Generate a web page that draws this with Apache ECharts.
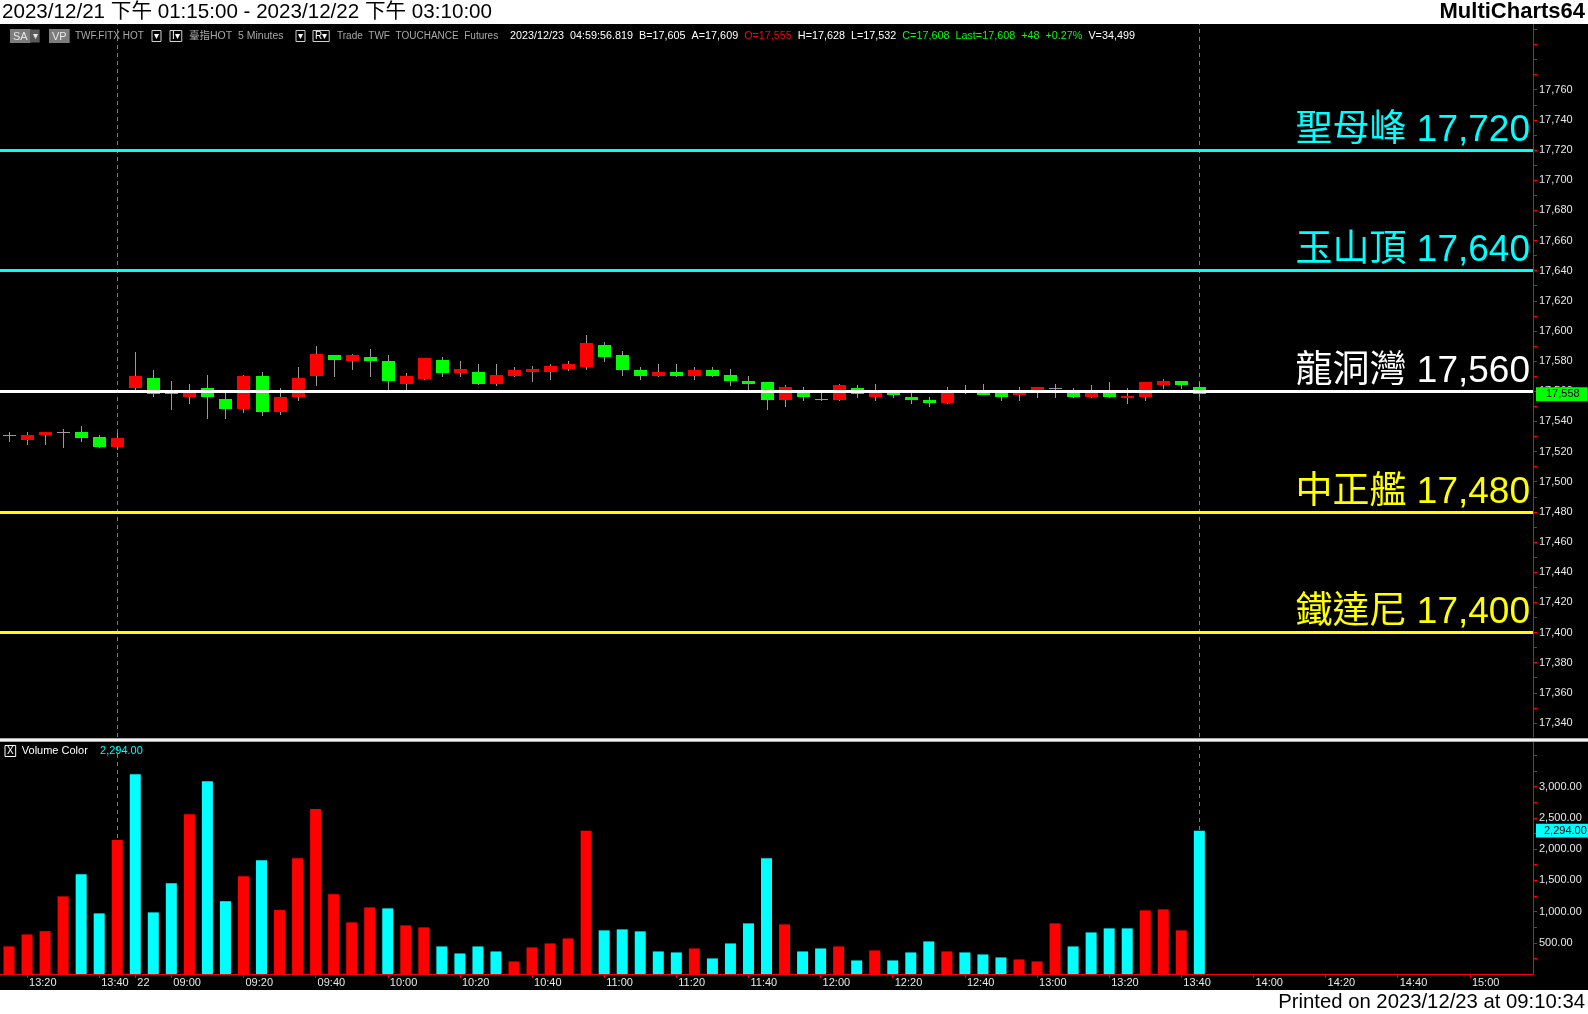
<!DOCTYPE html>
<html><head><meta charset="utf-8">
<script src="https://cdn.jsdelivr.net/npm/echarts@6/dist/echarts.min.js"></script>
<style>html,body{margin:0;padding:0;background:#000;overflow:hidden}#c{width:1588px;height:1014px;}</style>
</head><body><div id="c"></div>
<script>
// ---------- DATA ----------
const categories = [
 '12/21 13:15','12/21 13:20','12/21 13:25','12/21 13:30','12/21 13:35','12/21 13:40','12/21 13:45',
 '12/22 08:50','12/22 08:55',
 '12/22 09:00','12/22 09:05','12/22 09:10','12/22 09:15','12/22 09:20','12/22 09:25','12/22 09:30','12/22 09:35','12/22 09:40','12/22 09:45','12/22 09:50','12/22 09:55',
 '12/22 10:00','12/22 10:05','12/22 10:10','12/22 10:15','12/22 10:20','12/22 10:25','12/22 10:30','12/22 10:35','12/22 10:40','12/22 10:45','12/22 10:50','12/22 10:55',
 '12/22 11:00','12/22 11:05','12/22 11:10','12/22 11:15','12/22 11:20','12/22 11:25','12/22 11:30','12/22 11:35','12/22 11:40','12/22 11:45','12/22 11:50','12/22 11:55',
 '12/22 12:00','12/22 12:05','12/22 12:10','12/22 12:15','12/22 12:20','12/22 12:25','12/22 12:30','12/22 12:35','12/22 12:40','12/22 12:45','12/22 12:50','12/22 12:55',
 '12/22 13:00','12/22 13:05','12/22 13:10','12/22 13:15','12/22 13:20','12/22 13:25','12/22 13:30','12/22 13:35','12/22 13:40','12/22 13:45','12/22 13:50','12/22 13:55',
 '12/22 14:00','12/22 14:05','12/22 14:10','12/22 14:15','12/22 14:20','12/22 14:25','12/22 14:30','12/22 14:35','12/22 14:40','12/22 14:45','12/22 14:50','12/22 14:55',
 '12/22 15:00','12/22 15:05','12/22 15:10','12/22 15:15'
];
const opens  = [17531,17528,17531,17533,17533,17530,17523, 17562,17569,17560,17556,17562,17555,17548,17570,17546,17556,17570,17584,17580,17583,17580,17565,17568,17581,17572,17573,17565,17570,17573,17573,17575,17576,17591,17584,17574,17570,17573,17570,17574,17571,17567,17566,17554,17560,17555,17554,17562,17556,17559,17556,17554,17552,17561,17559,17559,17558,17561,17562,17559,17556,17559,17556,17556,17564,17567,17563];
const highs  = [17533,17533,17533,17535,17537,17531,17532, 17586,17574,17567,17565,17571,17559,17571,17573,17562,17576,17590,17584,17585,17588,17584,17572,17582,17583,17580,17578,17578,17576,17577,17578,17580,17597,17593,17587,17576,17578,17578,17576,17576,17575,17570,17566,17564,17563,17561,17565,17564,17565,17560,17559,17556,17563,17564,17565,17560,17563,17563,17565,17562,17564,17566,17562,17566,17568,17567,17566];
const lows   = [17527,17525,17525,17523,17527,17523,17522, 17561,17557,17548,17552,17542,17542,17546,17544,17545,17554,17564,17570,17575,17570,17561,17561,17568,17570,17570,17565,17564,17570,17567,17568,17574,17575,17580,17571,17568,17570,17570,17568,17570,17564,17561,17548,17550,17554,17554,17554,17556,17554,17556,17552,17550,17552,17559,17558,17554,17554,17556,17556,17556,17556,17556,17552,17554,17562,17562,17557];
const closes = [17531,17531,17533,17533,17529,17523,17529, 17570,17558,17558,17559,17556,17548,17570,17546,17556,17569,17585,17581,17584,17580,17567,17570,17582,17572,17575,17565,17571,17574,17575,17577,17578,17592,17583,17574,17570,17573,17570,17574,17570,17567,17565,17554,17563,17556,17555,17564,17558,17559,17558,17554,17552,17560,17560,17558,17556,17559,17563,17562,17556,17559,17556,17557,17566,17567,17564,17558];
const volumes = [441,633,686,1242,1595,970,2145,3198,986,1451,2557,3085,1165,1563,1820,1023,1851,2641,1277,826,1066,1050,778,746,441,329,441,361,201,425,489,569,2292,698,714,682,361,345,409,249,489,810,1851,794,361,409,441,217,377,217,345,521,361,345,313,265,233,201,810,441,665,730,730,1018,1034,698,2294];
const volumeColorKeys = ['r','r','r','r','c','c','r','c','c','c', 'r','c','c','r','c','r','r','r','r','r', 'r','c','r','r','c','c','c','c','r','r', 'r','r','r','c','c','c','c','c','r','c', 'c','c','c','r','c','c','r','c','r','c', 'c','c','r','c','c','c','r','r','r','c', 'c','c','c','r','r','r','c'];
const xLabelCategories = ['12/21 13:20','12/21 13:40','12/22 08:50','12/22 09:00','12/22 09:20','12/22 09:40','12/22 10:00','12/22 10:20','12/22 10:40','12/22 11:00','12/22 11:20','12/22 11:40','12/22 12:00','12/22 12:20','12/22 12:40','12/22 13:00','12/22 13:20','12/22 13:40','12/22 14:00','12/22 14:20','12/22 14:40','12/22 15:00'];
const sessionBreaks = ['12/21 13:45','12/22 13:45'];
const priceTickLabels = [17340,17360,17380,17400,17420,17440,17460,17480,17500,17520,17540,17560,17580,17600,17620,17640,17660,17680,17700,17720,17740,17760];
const priceMinorTicks = [17340,17350,17360,17370,17380,17390,17400,17410,17420,17430,17440,17450,17460,17470,17480,17490,17500,17510,17520,17530,17540,17550,17560,17570,17580,17590,17600,17610,17620,17630,17640,17650,17660,17670,17680,17690,17700,17710,17720,17730,17740,17750,17760,17770,17780,17790,17800];
const volumeTickLabels = [500,1000,1500,2000,2500,3000];
const volumeMinorTicks = [250,500,750,1000,1250,1500,1750,2000,2250,2500,2750,3000,3250,3500];
const levelNames  = ['聖母峰','玉山頂','龍洞灣','中正艦','鐵達尼'];
const levelValues = [17720,17640,17560,17480,17400];
const levelColors = ['#00ffff','#00ffff','#ffffff','#ffff00','#ffff00'];

// ---------- CHART ----------
const FONT = "'Liberation Sans', Arial, 'Noto Sans CJK TC', sans-serif";
const chart = echarts.init(document.getElementById('c'), null, {renderer:'canvas'});
const candleData = opens.map((o,i)=>[i, o, closes[i], lows[i], highs[i]]);
const volData = volumes.map((v,i)=>({value:v, itemStyle:{color: volumeColorKeys[i]==='r' ? '#ff0000' : '#00ffff'}}));
const lastClose = closes[closes.length-1];
const lastVol = volumes[volumes.length-1];
const fmt = v => v.toLocaleString('en-US');
const fmt2 = v => v.toLocaleString('en-US',{minimumFractionDigits:2, maximumFractionDigits:2});
const showX = (idx, val) => xLabelCategories.indexOf(val) >= 0;

function renderCandle(params, api){
  const i = api.value(0), o = api.value(1), c = api.value(2), l = api.value(3), h = api.value(4);
  const pO = api.coord([i,o]), pC = api.coord([i,c]), pL = api.coord([i,l]), pH = api.coord([i,h]);
  const x = Math.round(pO[0]);
  const w = Math.round(api.size([1,0])[0]*0.72);
  const half = Math.floor(w/2);
  const kids = [{type:'line', shape:{x1:x+0.5, y1:Math.round(pH[1]), x2:x+0.5, y2:Math.round(pL[1])+1}, style:{stroke:'#9a9a9a', lineWidth:1}}];
  if (o === c) {
    const y = Math.round(pO[1])+0.5;
    kids.push({type:'line', shape:{x1:x-half, y1:y, x2:x+half+1, y2:y}, style:{stroke:'#9a9a9a', lineWidth:1}});
  } else {
    const top = Math.round(Math.min(pO[1],pC[1])), bot = Math.round(Math.max(pO[1],pC[1]));
    kids.push({type:'rect', shape:{x:x-half, y:top, width:w, height:Math.max(bot-top,2)}, style:{fill: c>o ? '#ff0000' : '#00ff00'}});
  }
  return {type:'group', children:kids};
}

const axisRed = {lineStyle:{color:'#ff0000', width:1}};
const hiddenLine = {color:'rgba(0,0,0,0)', width:0, type:'solid'};
const option = {
  backgroundColor:'#000000',
  animation:false,
  textStyle:{fontFamily:FONT},
  grid:[
    {left:0, right:55, top:24, bottom:277},
    {left:0, right:55, top:742, bottom:40}
  ],
  xAxis:[
    {type:'category', gridIndex:0, data:categories, boundaryGap:true, axisLine:{show:false}, axisTick:{show:false}, axisLabel:{show:false}, splitLine:{show:false}},
    {type:'category', gridIndex:1, data:categories, boundaryGap:true,
      axisLine:{show:true, ...axisRed},
      axisTick:{show:true, alignWithLabel:true, interval:showX, length:4, ...axisRed},
      axisLabel:{show:true, interval:showX, color:'#e8e8e8', fontSize:11, fontFamily:FONT, margin:3, align:'left', padding:[0,0,0,2],
        formatter: v => v === '12/22 08:50' ? '22' : v.slice(6)},
      splitLine:{show:false}}
  ],
  yAxis:[
    {type:'value', gridIndex:0, position:'right', min:17330.7, max:17803.6, scale:true,
      axisLine:{show:true, ...axisRed},
      axisTick:{show:true, length:4, customValues:priceMinorTicks, ...axisRed},
      axisLabel:{show:true, customValues:priceTickLabels, color:'#e8e8e8', fontSize:11, fontFamily:FONT, margin:6, formatter: fmt},
      splitLine:{show:false}},
    {type:'value', gridIndex:1, position:'right', min:0, max:3712,
      axisLine:{show:true, ...axisRed},
      axisTick:{show:true, length:4, customValues:volumeMinorTicks, ...axisRed},
      axisLabel:{show:true, customValues:volumeTickLabels, color:'#e8e8e8', fontSize:11, fontFamily:FONT, margin:6, formatter: fmt2},
      splitLine:{show:false}}
  ],
  series:[
    { // session break dashed lines (price pane, behind candles)
      type:'line', xAxisIndex:0, yAxisIndex:0, data:closes, symbol:'none', lineStyle:{opacity:0}, silent:true, z:1,
      markLine:{z:1, symbol:['none','none'], silent:true, label:{show:false},
        lineStyle:{color:'#7a7a7a', type:[4,4], width:1},
        data: sessionBreaks.map(s=>({xAxis:s}))}
    },
    {
      type:'custom', xAxisIndex:0, yAxisIndex:0, data:candleData, renderItem:renderCandle, z:3,
      encode:{x:0, y:[1,2,3,4]}, clip:false
    },
    { // level lines + last price tag
      type:'line', xAxisIndex:0, yAxisIndex:0, data:closes, symbol:'none', lineStyle:{opacity:0}, silent:true, z:5,
      markLine:{z:10, symbol:['none','none'], silent:true, precision:0,
        data: levelValues.map((v,i)=>({name:levelNames[i], yAxis:v,
          lineStyle:{color:levelColors[i], width:3, type:'solid'},
          label:{show:true, position:'insideEndTop', color:levelColors[i], fontSize:37, fontFamily:FONT, distance:[3,1],
            formatter: p => p.name + ' ' + fmt(p.value)}})).concat([
          {yAxis:lastClose, lineStyle:hiddenLine,
            label:{show:true, position:'end', distance:3, backgroundColor:'#00ff00', color:'#000000', fontSize:11, fontFamily:FONT, padding:[2,8,1,10],
              formatter: p => fmt(p.value)}}
        ])}
    },
    { // session break dashed lines (volume pane)
      type:'line', xAxisIndex:1, yAxisIndex:1, data:volumes, symbol:'none', lineStyle:{opacity:0}, silent:true, z:1,
      markLine:{z:1, symbol:['none','none'], silent:true, label:{show:false},
        lineStyle:{color:'#7a7a7a', type:[4,4], width:1},
        data: sessionBreaks.map(s=>({xAxis:s}))}
    },
    {
      type:'bar', xAxisIndex:1, yAxisIndex:1, data:volData, barWidth:11, z:3,
      markLine:{z:10, symbol:['none','none'], silent:true,
        data:[{yAxis:lastVol, lineStyle:hiddenLine,
          label:{show:true, position:'end', distance:3, backgroundColor:'#00ffff', color:'#000000', fontSize:11, fontFamily:FONT, padding:[2,3,1,8],
            formatter: p => fmt2(p.value)}}]}
    }
  ],
  graphic:[
    {type:'rect', z:100, shape:{x:0, y:0, width:1588, height:24}, style:{fill:'#ffffff'}},
    {type:'rect', z:100, shape:{x:0, y:990, width:1588, height:24}, style:{fill:'#ffffff'}},
    {type:'text', z:101, x:2, y:12, style:{text:'2023/12/21 下午 01:15:00 - 2023/12/22 下午 03:10:00', fill:'#000', font:"20.6px 'Liberation Sans', 'Noto Sans CJK TC', sans-serif", align:'left', verticalAlign:'middle'}},
    {type:'text', z:101, x:1585, y:12, style:{text:'MultiCharts64', fill:'#000', font:"bold 22px 'Liberation Sans', sans-serif", align:'right', verticalAlign:'middle'}},
    {type:'text', z:101, x:1585, y:1002, style:{text:'Printed on 2023/12/23 at 09:10:34', fill:'#000', font:"20.3px 'Liberation Sans', sans-serif", align:'right', verticalAlign:'middle'}},
    {type:'rect', z:50, shape:{x:0, y:738, width:1588, height:4}, style:{fill:'#a8a8a8'}},
    {type:'rect', z:51, shape:{x:0, y:739, width:1588, height:2}, style:{fill:'#f2f2f2'}},
    // toolbar row
    {type:'text', z:60, x:10, y:36, style:{text:'{b|SA}{d|▾}', verticalAlign:'middle', align:'left', font:"11px 'Liberation Sans', sans-serif",
      rich:{b:{backgroundColor:'#7c7c7c', fill:'#e8e8e8', padding:[2,3,1,3], fontSize:11}, d:{backgroundColor:'#5a5a5a', fill:'#e8e8e8', padding:[2,2,1,2], fontSize:10}}}},
    {type:'text', z:60, x:49, y:36, style:{text:'{b|VP}', verticalAlign:'middle', align:'left', font:"11px 'Liberation Sans', sans-serif",
      rich:{b:{backgroundColor:'#7c7c7c', fill:'#e8e8e8', padding:[2,3,1,3], fontSize:11}}}},
    {type:'text', z:60, x:75, y:36, style:{text:'TWF.FITX HOT', fill:'#a8a8a8', verticalAlign:'middle', align:'left', font:"10px 'Liberation Sans', sans-serif"}},
    {type:'text', z:60, x:152, y:36, style:{text:'{b|▾}', verticalAlign:'middle', align:'left', font:"10px 'Liberation Sans', sans-serif",
      rich:{b:{borderColor:'#d0d0d0', borderWidth:1, fill:'#ffffff', padding:[1,2,0,2], fontSize:10}}}},
    {type:'text', z:60, x:170, y:36, style:{text:'{b|I▾}', verticalAlign:'middle', align:'left', font:"10px 'Liberation Sans', sans-serif",
      rich:{b:{borderColor:'#d0d0d0', borderWidth:1, fill:'#ffffff', padding:[1,2,0,2], fontSize:10}}}},
    {type:'text', z:60, x:189, y:36, style:{text:'臺指HOT  5 Minutes', fill:'#a8a8a8', verticalAlign:'middle', align:'left', font:"10.5px 'Liberation Sans', 'Noto Sans CJK TC', sans-serif"}},
    {type:'text', z:60, x:296, y:36, style:{text:'{b|▾}', verticalAlign:'middle', align:'left', font:"10px 'Liberation Sans', sans-serif",
      rich:{b:{borderColor:'#d0d0d0', borderWidth:1, fill:'#ffffff', padding:[1,2,0,2], fontSize:10}}}},
    {type:'text', z:60, x:313, y:36, style:{text:'{b|R▾}', verticalAlign:'middle', align:'left', font:"10px 'Liberation Sans', sans-serif",
      rich:{b:{borderColor:'#d0d0d0', borderWidth:1, fill:'#ffffff', padding:[1,2,0,2], fontSize:10}}}},
    {type:'text', z:60, x:337, y:36, style:{text:'Trade  TWF  TOUCHANCE  Futures', fill:'#a8a8a8', verticalAlign:'middle', align:'left', font:"10px 'Liberation Sans', sans-serif"}},
    {type:'text', z:60, x:510, y:36, style:{
      text:'{w|2023/12/23  04:59:56.819  B=17,605  A=17,609}  {r|O=17,555}  {w|H=17,628  L=17,532}  {gr|C=17,608  Last=17,608  +48  +0.27%}  {w|V=34,499}',
      font:"10.8px 'Liberation Sans', sans-serif", fill:'#ffffff', verticalAlign:'middle', align:'left',
      rich:{ w:{fill:'#ffffff', fontSize:10.8}, r:{fill:'#ff0000', fontSize:10.8}, gr:{fill:'#00ff00', fontSize:10.8} }}},
    {type:'text', z:60, x:5, y:751, style:{
      text:'{bx|X}  {w|Volume Color}    {c|'+fmt2(lastVol)+'}',
      font:"11px 'Liberation Sans', sans-serif", fill:'#ffffff', verticalAlign:'middle', align:'left',
      rich:{
        bx:{borderColor:'#ffffff', borderWidth:1, fill:'#ffffff', padding:[1,2,0,2], fontSize:10},
        w:{fill:'#ffffff', fontSize:11},
        c:{fill:'#00ffff', fontSize:11}
      }}}
  ]
};
chart.setOption(option);
</script>
</body></html>
